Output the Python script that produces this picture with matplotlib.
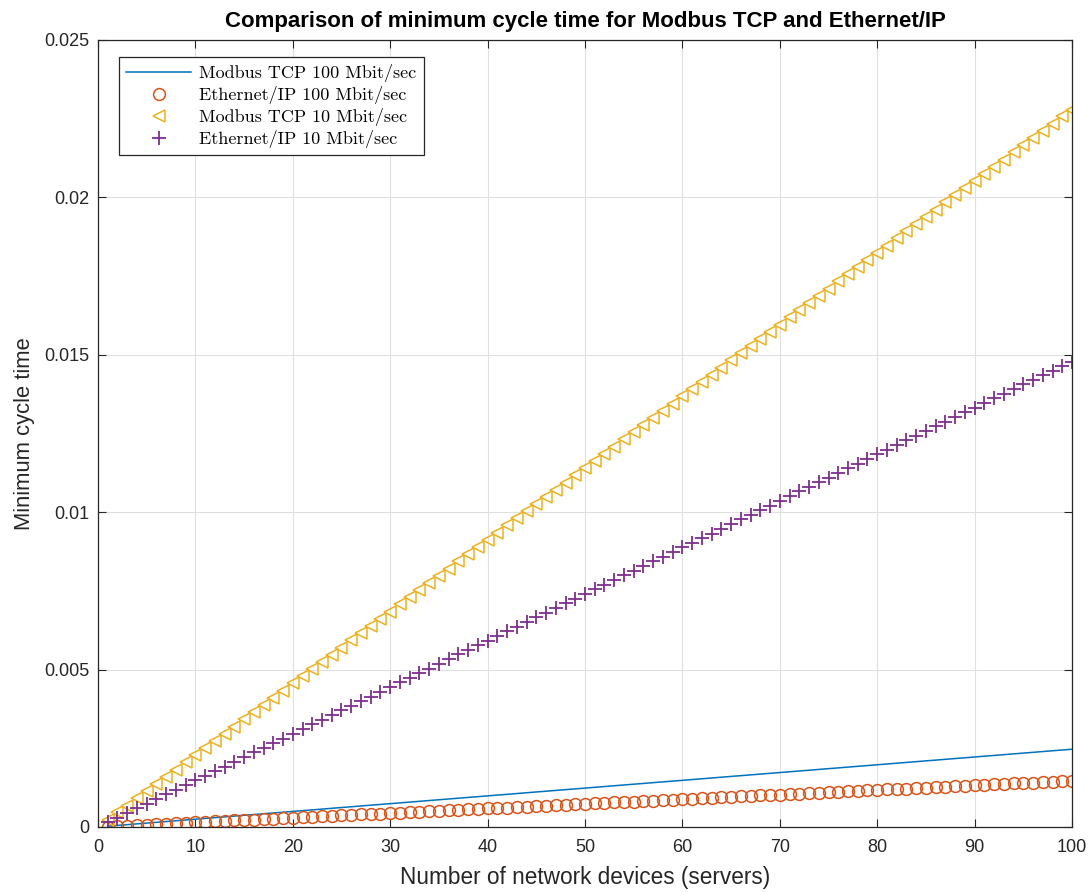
import numpy as np
import matplotlib
matplotlib.use('Agg')
import matplotlib.pyplot as plt
from matplotlib.ticker import FixedLocator, FixedFormatter

# number of network devices (servers)
devices = np.arange(1, 101)

# minimum cycle time, in milliseconds
modbus_100_ms = [
    0.025, 0.049, 0.074, 0.099, 0.124, 0.148, 0.173, 0.198, 0.222, 0.247,
    0.272, 0.296, 0.321, 0.346, 0.371, 0.395, 0.420, 0.445, 0.469, 0.494,
    0.519, 0.543, 0.568, 0.593, 0.618, 0.642, 0.667, 0.692, 0.716, 0.741,
    0.766, 0.790, 0.815, 0.840, 0.865, 0.889, 0.914, 0.939, 0.963, 0.988,
    1.013, 1.037, 1.062, 1.087, 1.112, 1.136, 1.161, 1.186, 1.210, 1.235,
    1.260, 1.284, 1.309, 1.334, 1.359, 1.383, 1.408, 1.433, 1.457, 1.482,
    1.507, 1.531, 1.556, 1.581, 1.606, 1.630, 1.655, 1.680, 1.704, 1.729,
    1.754, 1.778, 1.803, 1.828, 1.853, 1.877, 1.902, 1.927, 1.951, 1.976,
    2.001, 2.025, 2.050, 2.075, 2.100, 2.124, 2.149, 2.174, 2.198, 2.223,
    2.248, 2.272, 2.297, 2.322, 2.347, 2.371, 2.396, 2.421, 2.445, 2.470,
]
eip_100_ms = [
    0.015, 0.029, 0.044, 0.059, 0.074, 0.088, 0.103, 0.118, 0.132, 0.147,
    0.162, 0.176, 0.191, 0.206, 0.221, 0.235, 0.250, 0.265, 0.279, 0.294,
    0.309, 0.323, 0.338, 0.353, 0.368, 0.382, 0.397, 0.412, 0.426, 0.441,
    0.456, 0.470, 0.485, 0.500, 0.515, 0.529, 0.544, 0.559, 0.573, 0.588,
    0.603, 0.617, 0.632, 0.647, 0.662, 0.676, 0.691, 0.706, 0.720, 0.735,
    0.750, 0.764, 0.779, 0.794, 0.809, 0.823, 0.838, 0.853, 0.867, 0.882,
    0.897, 0.911, 0.926, 0.941, 0.956, 0.970, 0.985, 1.000, 1.014, 1.029,
    1.044, 1.058, 1.073, 1.088, 1.103, 1.117, 1.132, 1.147, 1.161, 1.176,
    1.191, 1.205, 1.220, 1.235, 1.250, 1.264, 1.279, 1.294, 1.308, 1.323,
    1.338, 1.352, 1.367, 1.382, 1.397, 1.411, 1.426, 1.441, 1.455, 1.470,
]
modbus_10_ms = [
    0.23, 0.46, 0.68, 0.91, 1.14, 1.37, 1.60, 1.82, 2.05, 2.28,
    2.51, 2.74, 2.96, 3.19, 3.42, 3.65, 3.88, 4.10, 4.33, 4.56,
    4.79, 5.02, 5.24, 5.47, 5.70, 5.93, 6.16, 6.38, 6.61, 6.84,
    7.07, 7.30, 7.52, 7.75, 7.98, 8.21, 8.44, 8.66, 8.89, 9.12,
    9.35, 9.58, 9.80, 10.03, 10.26, 10.49, 10.72, 10.94, 11.17, 11.40,
    11.63, 11.86, 12.08, 12.31, 12.54, 12.77, 13.00, 13.22, 13.45, 13.68,
    13.91, 14.14, 14.36, 14.59, 14.82, 15.05, 15.28, 15.50, 15.73, 15.96,
    16.19, 16.42, 16.64, 16.87, 17.10, 17.33, 17.56, 17.78, 18.01, 18.24,
    18.47, 18.70, 18.92, 19.15, 19.38, 19.61, 19.84, 20.06, 20.29, 20.52,
    20.75, 20.98, 21.20, 21.43, 21.66, 21.89, 22.12, 22.34, 22.57, 22.78,
]
eip_10_ms = [
    0.15, 0.30, 0.44, 0.59, 0.74, 0.89, 1.04, 1.18, 1.33, 1.48,
    1.63, 1.78, 1.92, 2.07, 2.22, 2.37, 2.52, 2.66, 2.81, 2.96,
    3.11, 3.26, 3.40, 3.55, 3.70, 3.85, 4.00, 4.14, 4.29, 4.44,
    4.59, 4.74, 4.88, 5.03, 5.18, 5.33, 5.48, 5.62, 5.77, 5.92,
    6.07, 6.22, 6.36, 6.51, 6.66, 6.81, 6.96, 7.10, 7.25, 7.40,
    7.55, 7.70, 7.84, 7.99, 8.14, 8.29, 8.44, 8.58, 8.73, 8.88,
    9.03, 9.18, 9.32, 9.47, 9.62, 9.77, 9.92, 10.06, 10.21, 10.36,
    10.51, 10.66, 10.80, 10.95, 11.10, 11.25, 11.40, 11.54, 11.69, 11.84,
    11.99, 12.14, 12.28, 12.43, 12.58, 12.73, 12.88, 13.02, 13.17, 13.32,
    13.47, 13.62, 13.76, 13.91, 14.06, 14.21, 14.36, 14.50, 14.65, 14.78,
]

labels = ['Modbus TCP 100 Mbit/sec', 'Ethernet/IP 100 Mbit/sec',
          'Modbus TCP 10 Mbit/sec', 'Ethernet/IP 10 Mbit/sec']
y_ticks = [0, 0.005, 0.01, 0.015, 0.02, 0.025]
y_tick_labels = ['0', '0.005', '0.01', '0.015', '0.02', '0.025']
x_ticks = list(range(0, 101, 10))

plt.rcParams['font.family'] = ['Liberation Sans', 'DejaVu Sans']

fig = plt.figure(figsize=(10.91, 8.92), dpi=100, facecolor='white')
ax = fig.add_axes([0.0898, 0.0729, 0.8928, 0.8823])

ax.plot(devices, np.array(modbus_100_ms) / 1000, color='#0072BD', lw=1.1,
        label=labels[0])
ax.plot(devices, np.array(eip_100_ms) / 1000, ls='none', marker='o',
        mfc='none', mec='#D95319', ms=8.5, mew=1.1, label=labels[1])
ax.plot(devices, np.array(modbus_10_ms) / 1000, ls='none', marker='<',
        mfc='none', mec='#EDB120', ms=9, mew=1.1, label=labels[2])
ax.plot(devices, np.array(eip_10_ms) / 1000, ls='none', marker='+',
        color='#7E2F8E', ms=10, mew=1.3, label=labels[3])

ax.set_xlim(0, 100)
ax.set_ylim(0, 0.025)
ax.xaxis.set_major_locator(FixedLocator(x_ticks))
ax.yaxis.set_major_locator(FixedLocator(y_ticks))
ax.yaxis.set_major_formatter(FixedFormatter(y_tick_labels))
ax.tick_params(direction='in', length=6, width=0.8, colors='#262626',
               labelsize=13, top=True, right=True)
ax.tick_params(axis='x', pad=9)
ax.tick_params(axis='y', pad=6)
ax.grid(True, color='#e0e0e0', lw=0.8)
ax.set_axisbelow(True)
for s in ax.spines.values():
    s.set_color('#262626')
    s.set_linewidth(0.9)

ax.set_xlabel('Number of network devices (servers)', fontsize=16.3,
              color='#262626', labelpad=7)
ax.set_ylabel('Minimum cycle time', fontsize=15.8, color='#262626', labelpad=7)
ax.set_title('Comparison of minimum cycle time for Modbus TCP and Ethernet/IP',
             fontsize=16, fontweight='bold', color='black', pad=9)

leg = ax.legend(loc='upper left', bbox_to_anchor=(0.0216, 0.9785),
                prop={'family': 'cmr10', 'size': 13}, frameon=True,
                fancybox=False, edgecolor='#262626', framealpha=1,
                borderpad=0.4, labelspacing=0.22, handlelength=3.6,
                handletextpad=0.45, borderaxespad=0)
leg.get_frame().set_linewidth(0.9)

fig.savefig('out.png', dpi=100, facecolor='white')
